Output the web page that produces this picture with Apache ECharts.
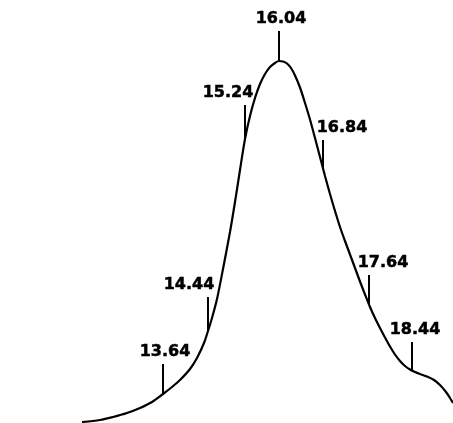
<!DOCTYPE html>
<html>
<head>
<meta charset="utf-8">
<script src="https://cdn.jsdelivr.net/npm/echarts@6/dist/echarts.min.js"></script>
<style>
html,body{margin:0;padding:0;background:#fff;}
#chart{width:453px;height:423px;}
</style>
</head>
<body>
<div id="chart"></div>
<script>
// Trace: chart position (x) vs detector response (y)
const traceX = [82,100,113,127,140,152,163,172,180,190,197,204,208,212,217,223,230,235,240,245,250,255,260,265,270,275,279,283,287,291,295,300,305,310,315,320,325,330,335,340,345,350,355,360,365,370,375,380,385,390,395,400,405,410,415,420,427,434,440,446,450,453];
const traceY = [1,3,6,10,15,21,29,36,43,54,65,80,92,105,124,154,191,221,253,284,307,325,339,349,356,360,362,361.5,359.5,355,347.5,335.5,320,303.5,285,266,247,229,212,196,182,168.5,155,141.5,128.5,116,105,95,85.5,76.5,68.5,62,57,53.5,51,49,46.5,43,38,31,25,20];

// Marked points on the trace
const markLabels = ['13.64','14.44','15.24','16.04','16.84','17.64','18.44'];
const markX      = [163, 208, 245, 279, 323, 369, 412];
const markBase   = [29, 92, 284, 362, 254, 118, 52.5];
const markTop    = [59, 126, 318, 392, 283, 148, 81];

// layout only: horizontal label offsets
const labelDx = [2, -19, -17, 2, 19, 14, 3];
const labelDy = -12;

const chart = echarts.init(document.getElementById('chart'), null, {renderer: 'canvas'});
chart.setOption({
  animation: false,
  backgroundColor: '#fff',
  grid: {left: 0, right: 0, top: 0, bottom: 0},
  xAxis: {type: 'value', min: 0, max: 453, show: false},
  yAxis: {type: 'value', min: 0, max: 423, show: false},
  series: [
    {
      type: 'line',
      data: traceX.map((x, i) => [x, traceY[i]]),
      showSymbol: false,
      smooth: 0.3,
      lineStyle: {color: '#000', width: 2.2},
      clip: false
    },
    {
      type: 'custom',
      data: markX.map((x, i) => [x, markBase[i], markTop[i], i]),
      renderItem: function (params, api) {
        const i = api.value(3);
        const p0 = api.coord([api.value(0), api.value(1)]);
        const p1 = api.coord([api.value(0), api.value(2)]);
        return {
          type: 'group',
          children: [
            {type: 'line', shape: {x1: p0[0], y1: p0[1], x2: p1[0], y2: p1[1]},
             style: {stroke: '#000', lineWidth: 2}},
            {type: 'text', x: p1[0] + labelDx[i], y: p1[1] + labelDy,
             style: {text: markLabels[i], font: 'bold 16px "DejaVu Sans"', fill: '#000',
                     stroke: '#000', lineWidth: 0.5,
                     align: 'center', verticalAlign: 'middle'}}
          ]
        };
      }
    }
  ]
});
</script>
</body>
</html>
